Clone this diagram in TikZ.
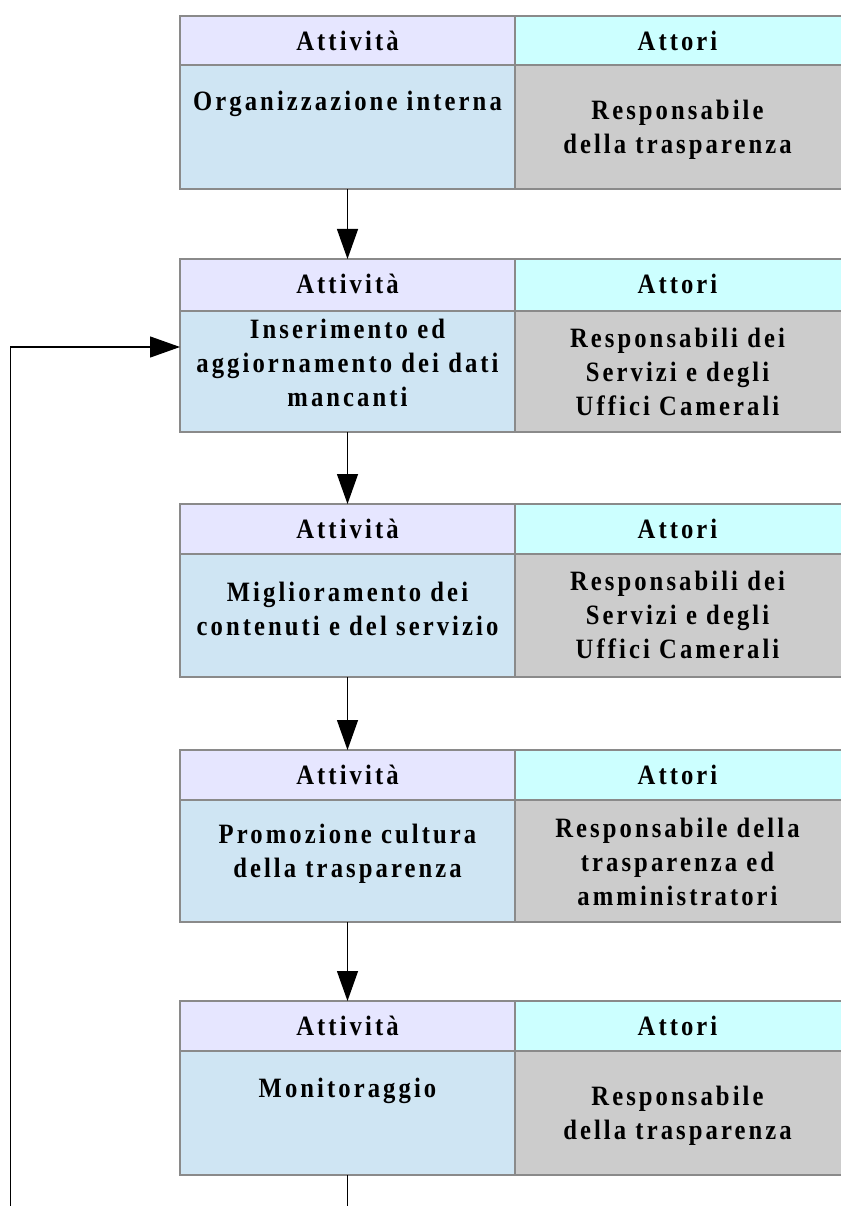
\documentclass[tikz,border=0pt]{standalone}
\usepackage{fontspec}
\setmainfont{Liberation Serif}[LetterSpace=11,FakeStretch=0.88]
\usetikzlibrary{arrows.meta}
\definecolor{hdrA}{HTML}{E6E6FF}
\definecolor{hdrB}{HTML}{CCFFFF}
\definecolor{bodyA}{HTML}{CFE5F3}
\definecolor{bodyB}{HTML}{CCCCCC}
\definecolor{edge}{HTML}{8A8A8A}
\newcommand\flowblock[4]{%
  \node[cell, fill=hdrA, minimum width=335pt, minimum height={#3-#2}] (h#1L) at (180,#2) {};
  \node[cell, fill=hdrB, minimum width=327pt, minimum height={#3-#2}] (h#1R) at (515,#2) {};
  \node[cell, fill=bodyA, minimum width=335pt, minimum height={#4-#3}] (b#1L) at (180,#3) {};
  \node[cell, fill=bodyB, minimum width=327pt, minimum height={#4-#3}] (b#1R) at (515,#3) {};
  \node[txt] (th#1L) at (347.5,{#2+27.7}) {\strut Attività};
  \node[txt] (th#1R) at (677.5,{#2+27.7}) {\strut Attori};
}
\begin{document}
\begin{tikzpicture}[x=1pt,y=-1pt,
  cell/.style={draw=edge, line width=1.2pt, anchor=north west, inner sep=0pt, outer sep=0pt},
  txt/.style={font=\fontsize{28}{34}\selectfont\bfseries, align=center, inner sep=0pt},
  arr/.style={draw=black, line width=1.3pt, -{Triangle[length=30pt,width=21pt]}},
  ln/.style={draw=black, line width=1.3pt}]
\useasboundingbox[fill=white] (0,0) rectangle (840,1206);

\flowblock{1}{16}{65}{189}
\flowblock{2}{259}{311}{432}
\flowblock{3}{504}{554}{677}
\flowblock{4}{750}{800}{922}
\flowblock{5}{1001}{1051}{1175}

\node[txt] (t1L) at (347.5,104.2) {\strut Organizzazione interna};
\node[txt] (t1R) at (677.5,129.7) {\strut Responsabile\\\strut della trasparenza};

\node[txt] (t2L) at (347.5,365.7) {\strut Inserimento ed\\\strut aggiornamento dei dati\\\strut mancanti};
\node[txt] (t2R) at (677.5,374.2) {\strut Responsabili dei\\\strut Servizi e degli\\\strut Uffici Camerali};

\node[txt] (t3L) at (347.5,611.7) {\strut Miglioramento dei\\\strut contenuti e del servizio};
\node[txt] (t3R) at (677.5,617.2) {\strut Responsabili dei\\\strut Servizi e degli\\\strut Uffici Camerali};

\node[txt] (t4L) at (347.5,853.7) {\strut Promozione cultura\\\strut della trasparenza};
\node[txt] (t4R) at (677.5,864.2) {\strut Responsabile della\\\strut trasparenza ed\\\strut amministratori};

\node[txt] (t5L) at (347.5,1090.2) {\strut Monitoraggio};
\node[txt] (t5R) at (677.5,1115.2) {\strut Responsabile\\\strut della trasparenza};

\draw[arr] (b1L.south) -- (h2L.north);
\draw[arr] (b2L.south) -- (h3L.north);
\draw[arr] (b3L.south) -- (h4L.north);
\draw[arr] (b4L.south) -- (h5L.north);

\coordinate (endB) at (347.5,1207);
\coordinate (loopB) at (10.5,1207);
\coordinate (loopT) at (10.5,347);
\draw[ln] (b5L.south) -- (endB);
\draw[arr] (loopB) -- (loopT) -- (b2L.west |- loopT);
\end{tikzpicture}
\end{document}
